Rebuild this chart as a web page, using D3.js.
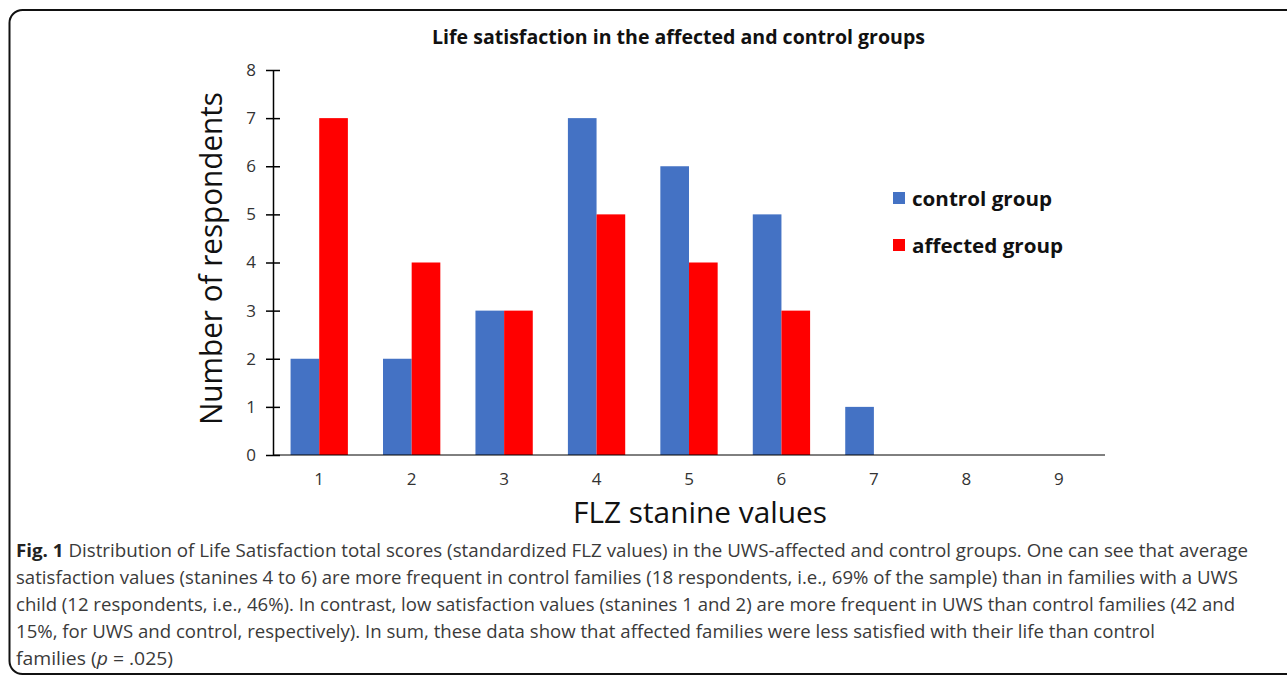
<!DOCTYPE html>
<html><head><meta charset="utf-8">
<script src="https://cdn.jsdelivr.net/npm/d3@7"></script>
<style>body{margin:0;background:#fff}svg{display:block}</style>
</head><body>
<svg id="c" width="1287" height="676"></svg>
<script>
const categories = ["1","2","3","4","5","6","7","8","9"];
const controlValues = [2,2,3,7,6,5,1,0,0];
const affectedValues = [7,4,3,5,4,3,0,0,0];
const seriesNames = ["control group","affected group"];
const seriesColors = ["#4472C4","#FF0000"];
const yTicks = [0,1,2,3,4,5,6,7,8];
const titleText = "Life satisfaction in the affected and control groups";
const yLabel = "Number of respondents";
const xLabel = "FLZ stanine values";
const captionLines = [
  [["b","Fig. 1"],["n"," Distribution of Life Satisfaction total scores (standardized FLZ values) in the UWS-affected and control groups. One can see that average"]],
  [["n","satisfaction values (stanines 4 to 6) are more frequent in control families (18 respondents, i.e., 69% of the sample) than in families with a UWS"]],
  [["n","child (12 respondents, i.e., 46%). In contrast, low satisfaction values (stanines 1 and 2) are more frequent in UWS than control families (42 and"]],
  [["n","15%, for UWS and control, respectively). In sum, these data show that affected families were less satisfied with their life than control"]],
  [["n","families ("],["i","p"],["n"," = .025)"]]
];
const captionWidths = [1232,1222,1219,1139,157];

const svg = d3.select("#c");
// frame
svg.append("rect").attr("x",9.5).attr("y",10).attr("width",1300).attr("height",664)
  .attr("rx",13).attr("fill","none").attr("stroke","#111").attr("stroke-width",2);

const data = categories.map((c,i)=>({cat:c, vals:[controlValues[i],affectedValues[i]]}));
const x0 = d3.scaleBand().domain(categories).range([273,1105]).paddingInner(0.38).paddingOuter(0.19);
const x1 = d3.scaleBand().domain([0,1]).range([0,x0.bandwidth()]);
const y = d3.scaleLinear().domain([0,8]).range([455,70]);

// bars
const g = svg.append("g");
g.selectAll("g.cat").data(data).join("g").attr("transform",d=>`translate(${x0(d.cat)},0)`)
  .selectAll("rect").data(d=>d.vals.map((v,k)=>({v,k}))).join("rect")
  .attr("x",d=>x1(d.k)).attr("width",x1.bandwidth())
  .attr("y",d=>y(d.v)).attr("height",d=>y(0)-y(d.v))
  .attr("fill",d=>seriesColors[d.k]);

// y axis
const yAxis = d3.axisLeft(y).tickValues(yTicks).tickSize(0).tickPadding(17);
const ya = svg.append("g").attr("transform","translate(273,0)").call(yAxis);
ya.select(".domain").attr("stroke","#000").attr("stroke-width",1.5);
ya.selectAll(".tick line").attr("x1",-7).attr("x2",7).attr("stroke","#000").attr("stroke-width",1.5);
ya.selectAll(".tick text").attr("font-family","Open Sans").attr("font-size",17).attr("fill","#333");

// x axis
const xAxis = d3.axisBottom(x0).tickSize(0).tickPadding(18);
const xa = svg.append("g").attr("transform","translate(0,455)").call(xAxis);
xa.select(".domain").attr("d","M273,0H1105").attr("stroke","#000").attr("stroke-width",1);
xa.selectAll(".tick text").attr("font-family","Open Sans").attr("font-size",17).attr("fill","#333");

// title
svg.append("text").attr("x",678.5).attr("y",44).attr("text-anchor","middle")
  .attr("font-family","Open Sans").attr("font-weight","bold").attr("font-size",19)
  .attr("textLength",493).attr("lengthAdjust","spacingAndGlyphs").attr("fill","#111").text(titleText);

// axis labels
svg.append("text").attr("transform","translate(222,258.5) rotate(-90)").attr("text-anchor","middle")
  .attr("font-family","Open Sans").attr("font-size",31).attr("fill","#111")
  .attr("textLength",333).attr("lengthAdjust","spacingAndGlyphs").text(yLabel);
svg.append("text").attr("x",700).attr("y",523).attr("text-anchor","middle")
  .attr("font-family","Open Sans").attr("font-size",30).attr("fill","#111")
  .attr("textLength",254).attr("lengthAdjust","spacingAndGlyphs").text(xLabel);

// legend
const legW = [140,151];
seriesNames.forEach((n,i)=>{
  const ly = 198 + i*47;
  svg.append("rect").attr("x",893).attr("y",ly-6).attr("width",12).attr("height",12).attr("fill",seriesColors[i]);
  svg.append("text").attr("x",912).attr("y",ly+8).attr("font-family","Open Sans").attr("font-weight","bold")
    .attr("font-size",20).attr("fill","#111").attr("textLength",legW[i]).attr("lengthAdjust","spacingAndGlyphs").text(n);
});

// caption
captionLines.forEach((parts,i)=>{
  const t = svg.append("text").attr("x",16).attr("y",557+i*27).attr("font-family","Open Sans")
    .attr("font-size",17.5).attr("fill","#3a3a3a")
    .attr("textLength",captionWidths[i]).attr("lengthAdjust","spacingAndGlyphs");
  parts.forEach(([s,txt])=>{
    const ts = t.append("tspan").text(txt);
    if(s==="b") ts.attr("font-weight","bold").attr("fill","#222");
    if(s==="i") ts.attr("font-style","italic");
  });
});
</script>
</body></html>
